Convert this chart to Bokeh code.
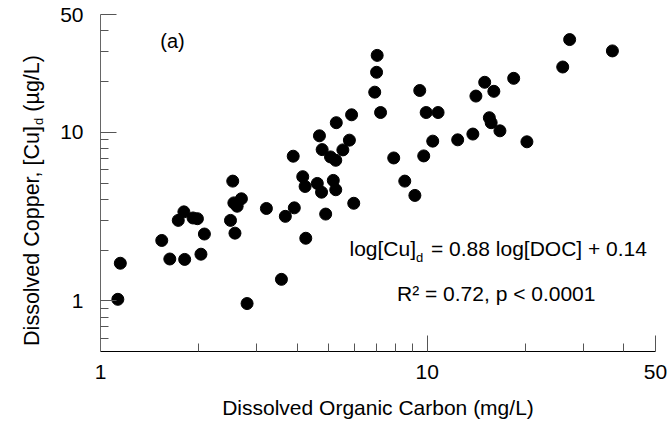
import math
from bokeh.plotting import figure
from bokeh.layouts import row
from bokeh.models import FixedTicker, Label, Range1d, BasicTickFormatter
from bokeh.embed import file_html
from bokeh.resources import INLINE

# ---- data ----
doc = [7.03, 7.0, 6.91, 7.2, 5.87, 5.27, 4.68, 5.78, 4.77, 5.52, 5.06, 5.25, 3.89,
       2.54, 4.16, 4.23, 4.61, 4.75, 5.16, 5.25, 5.96, 2.56, 2.70, 2.62, 1.80, 3.22,
       3.92, 4.89, 3.68, 1.73, 1.92, 1.98, 1.54, 1.63, 1.81, 2.03, 2.08, 1.15, 1.13,
       2.81, 3.58, 2.50, 2.58, 4.25, 27.3, 36.9, 26.0, 9.49, 9.93, 10.8, 15.0, 16.0,
       14.1, 18.4, 15.5, 15.7, 16.7, 13.8, 12.4, 10.4, 9.76, 7.90, 8.54, 9.17, 20.2]
cu = [28.6, 22.7, 17.3, 13.1, 12.7, 11.4, 9.53, 8.98, 7.89, 7.86, 7.14, 6.82, 7.21,
      5.13, 5.45, 4.77, 4.97, 4.41, 5.18, 4.56, 3.79, 3.81, 4.03, 3.64, 3.37, 3.53,
      3.56, 3.27, 3.17, 3.0, 3.10, 3.07, 2.28, 1.77, 1.76, 1.89, 2.49, 1.67, 1.02,
      0.963, 1.34, 3.0, 2.52, 2.35, 35.5, 30.4, 24.4, 17.7, 13.1, 13.1, 19.8, 17.5,
      16.4, 20.9, 12.2, 11.4, 10.2, 9.76, 9.02, 8.86, 7.24, 7.04, 5.13, 4.22, 8.78]

x_major = [1, 10, 50]
x_minor = [2, 3, 4, 5, 6, 7, 8, 9, 20, 30, 40]
x_labels = ["1", "10", "50"]
y_major = [1, 10, 50]
y_minor = [0.6, 0.7, 0.8, 0.9, 2, 3, 4, 5, 6, 7, 8, 9, 20, 30, 40]
y_labels = ["1", "10", "50"]

X_RANGE = (1, 50)
Y_RANGE = (0.5, 50)

# ---- layout ----
W, H = 672, 421
TW = 46                      # width of the strip holding the y-axis title
L, R, T, B = 100, 655, 14, 351
FONT = "Liberation Sans"
FS = "21px"
SUB = "13px"


def dx(sx):
    lo, hi = math.log10(X_RANGE[0]), math.log10(X_RANGE[1])
    return 10 ** (lo + (sx - L) / (R - L) * (hi - lo))


def dy(sy):
    lo, hi = math.log10(Y_RANGE[0]), math.log10(Y_RANGE[1])
    return 10 ** (lo + (B - sy) / (B - T) * (hi - lo))


p = figure(width=W - TW, height=H, x_axis_type="log", y_axis_type="log",
           x_range=Range1d(*X_RANGE), y_range=Range1d(*Y_RANGE),
           output_backend="svg", toolbar_location=None,
           min_border_left=L - TW, min_border_right=W - R,
           min_border_top=T, min_border_bottom=H - B)
p.outline_line_color = None
p.grid.visible = False
p.background_fill_color = "white"
p.border_fill_color = "white"

p.scatter(doc, cu, size=12, marker="circle", fill_color="black", line_color="black")

for ax, major, minor, labels in ((p.xaxis[0], x_major, x_minor, x_labels),
                                 (p.yaxis[0], y_major, y_minor, y_labels)):
    ax.ticker = FixedTicker(ticks=major, minor_ticks=minor)
    ax.formatter = BasicTickFormatter()
    ax.major_label_overrides = {v: s for v, s in zip(major, labels)}
    ax.major_tick_in = 16
    ax.major_tick_out = 0
    ax.minor_tick_in = 8
    ax.minor_tick_out = 0
    ax.major_tick_line_color = "#555555"
    ax.minor_tick_line_color = "#555555"
    ax.major_label_text_font = FONT
    ax.major_label_text_font_size = FS
    ax.major_label_text_color = "black"
    ax.axis_label_text_font = FONT
    ax.axis_label_text_font_size = FS
    ax.axis_label_text_font_style = "normal"
    ax.axis_label_text_color = "black"

p.xaxis.axis_line_color = "black"
p.yaxis.axis_line_color = "#666666"
p.xaxis.major_label_standoff = 13
p.yaxis.major_label_standoff = 17
p.xaxis.axis_label = "Dissolved Organic Carbon (mg/L)"
p.xaxis.axis_label_standoff = 14
p.yaxis.axis_label = None


def lab(text, sx, sy, size=FS, align="left", baseline="alphabetic"):
    p.add_layout(Label(x=dx(sx), y=dy(sy), text=text, text_font=FONT,
                       text_font_size=size, text_align=align,
                       text_baseline=baseline, text_color="black"))


# panel tag
lab("(a)", 172, 40.5, size="20px", align="center")

# regression equation
lab("log[Cu]", 349, 248)
lab("d", 415.5, 257, size=SUB)
lab("= 0.88 log[DOC] + 0.14", 430.5, 248)
lab("R\u00b2 = 0.72, p < 0.0001", 396.5, 293)

# ---- strip on the left holding the rotated y-axis title ----
# its frame is aligned with the main frame (T..B), and its y range maps 1:1 to pixels
tf = figure(width=TW, height=H, x_range=Range1d(0, TW), y_range=Range1d(B, T),
            output_backend="svg", toolbar_location=None,
            x_axis_location=None, y_axis_location=None,
            min_border_left=0, min_border_right=0,
            min_border_top=T, min_border_bottom=H - B)
tf.outline_line_color = None
tf.grid.visible = False
tf.background_fill_color = "white"
tf.border_fill_color = "white"

YT = "21.5px"
a = math.pi / 2
main_len = 10.281 * 21.5
sub_len = 0.556 * 13
space = 0.278 * 21.5
rest_len = 2.632 * 21.5
total = main_len + sub_len + space + rest_len
y0 = 200 + total / 2          # bottom end of the title text
tf.add_layout(Label(x=31, y=y0, text="Dissolved Copper, [Cu]", angle=a,
                    text_font=FONT, text_font_size=YT, text_color="black",
                    text_align="left", text_baseline="alphabetic"))
tf.add_layout(Label(x=38, y=y0 - main_len, text="d", angle=a,
                    text_font=FONT, text_font_size=SUB, text_color="black",
                    text_align="left", text_baseline="alphabetic"))
tf.add_layout(Label(x=31, y=y0 - main_len - sub_len - space, text="(\u00b5g/L)", angle=a,
                    text_font=FONT, text_font_size=YT, text_color="black",
                    text_align="left", text_baseline="alphabetic"))

layout = row(tf, p, spacing=0)
open("out.html", "w").write(file_html(layout, INLINE))
